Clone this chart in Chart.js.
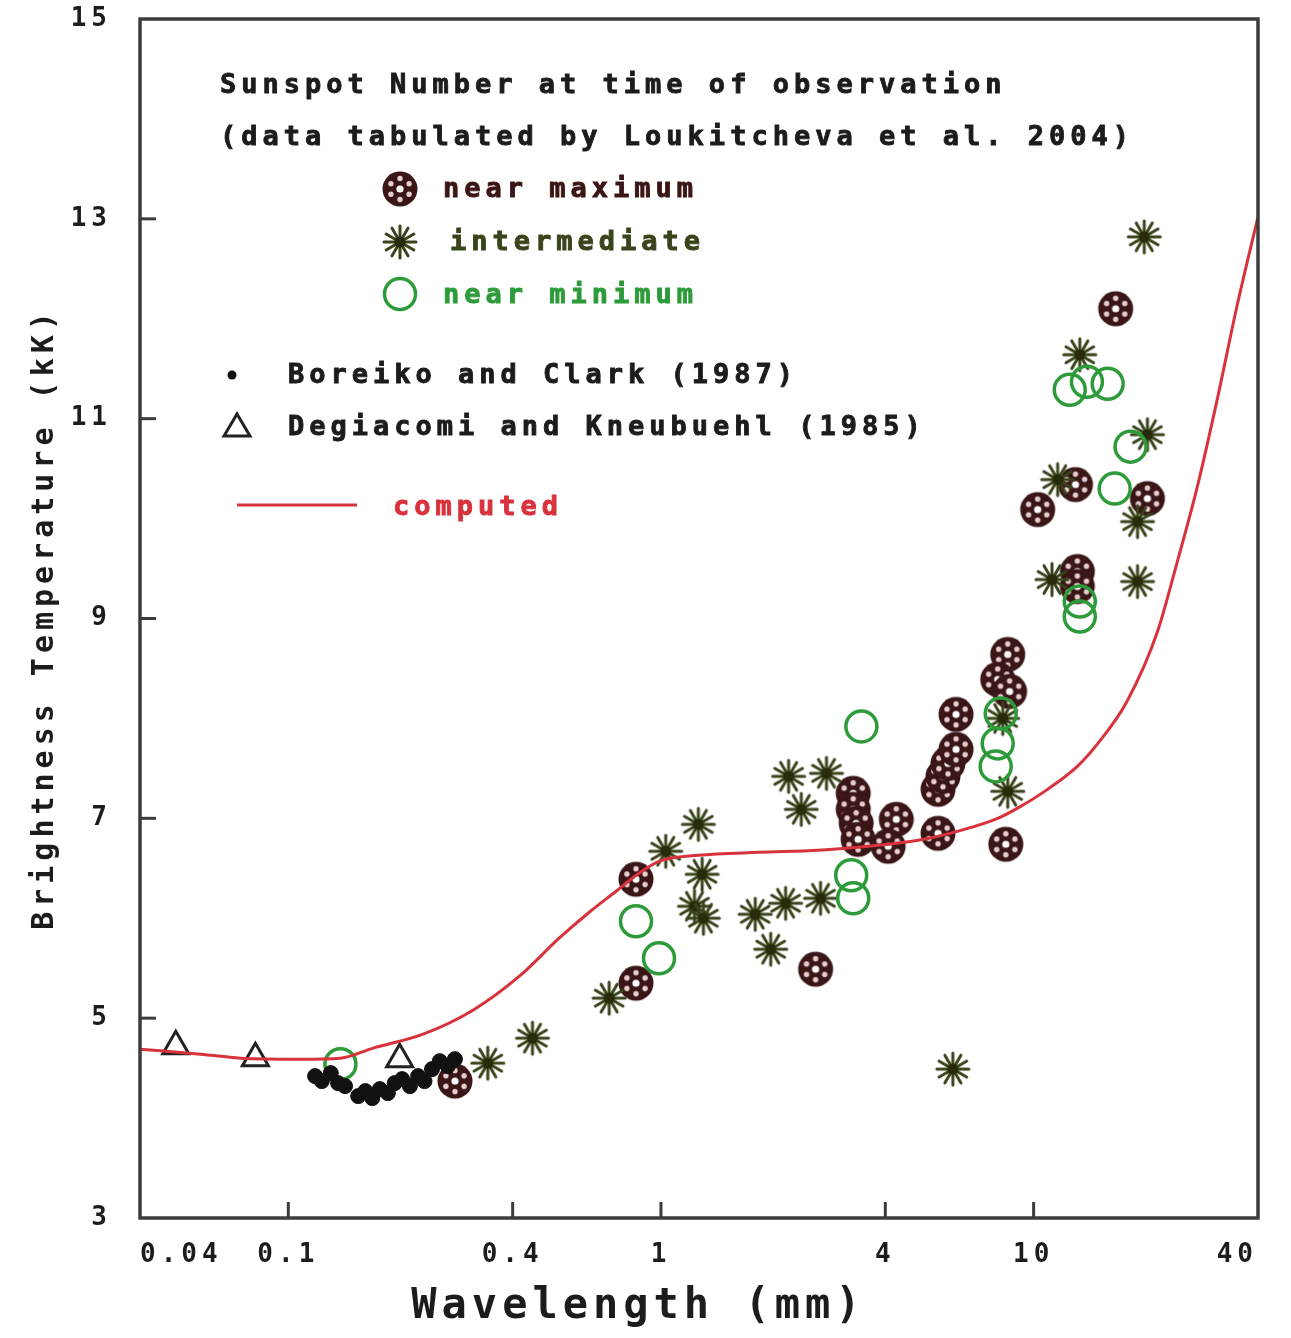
<!DOCTYPE html>
<html>
<head>
<meta charset="utf-8">
<script src="https://cdn.jsdelivr.net/npm/chart.js@4.4.1/dist/chart.umd.min.js"></script>
<style>
  body { margin: 0; background: #fff; }
  #wrap { width: 1291px; height: 1338px; }
</style>
</head>
<body>
<div id="wrap"><canvas id="chart"></canvas></div>
<script>
// ==== Data (wavelength in mm, brightness temperature in kK) ====
const xTicks = [0.04, 0.1, 0.4, 1, 4, 10, 40];
const yTicks = [3, 5, 7, 9, 11, 13, 15];

const nearMaxWave = [0.28, 0.857, 0.857, 2.6, 3.28, 3.28, 3.34, 3.38, 4.28, 4.07, 5.54, 6.19, 5.54, 5.71, 5.89, 6.19, 8.52, 8.01, 8.62, 8.42, 10.25, 12.95, 13.1, 13.1, 16.6, 20.2];
const nearMaxTemp = [4.37, 6.39, 5.35, 5.49, 7.25, 7.09, 6.95, 6.79, 6.99, 6.72, 6.85, 8.04, 7.29, 7.42, 7.55, 7.69, 8.64, 8.39, 8.27, 6.74, 10.09, 10.34, 9.47, 9.32, 12.1, 10.2];

const interWave = [0.343, 0.452, 0.726, 1.03, 1.26, 1.29, 1.23, 1.30, 1.79, 2.16, 1.97, 2.68, 2.20, 2.78, 2.38, 6.07, 8.26, 8.52, 13.3, 19.8, 20.2, 19.0, 19.0, 11.2, 11.6];
const interTemp = [4.55, 4.8, 5.2, 6.67, 6.94, 6.44, 6.12, 6.0, 6.04, 6.15, 5.69, 6.2, 7.42, 7.45, 7.09, 4.49, 8.0, 7.27, 11.64, 12.82, 10.84, 9.97, 9.37, 9.39, 10.39];

const nearMinWave = [0.138, 0.857, 0.988, 3.45, 3.24, 3.28, 8.16, 8.01, 7.91, 12.5, 13.9, 15.8, 18.2, 16.5, 13.3, 13.3];
const nearMinTemp = [4.54, 5.97, 5.6, 7.92, 6.43, 6.2, 8.05, 7.75, 7.52, 11.29, 11.37, 11.35, 10.72, 10.3, 9.17, 9.02];

const boreikoWave = [0.118, 0.123, 0.130, 0.136, 0.142, 0.154, 0.161, 0.168, 0.176, 0.185, 0.193, 0.202, 0.212, 0.223, 0.232, 0.243, 0.255, 0.268, 0.280];
const boreikoTemp = [4.42, 4.37, 4.45, 4.35, 4.32, 4.22, 4.27, 4.2, 4.29, 4.25, 4.35, 4.39, 4.32, 4.42, 4.37, 4.49, 4.57, 4.52, 4.59];

const degiacomiWave = [0.0499, 0.0816, 0.199];
const degiacomiTemp = [4.72, 4.6, 4.59];

const modelWave = [0.04, 0.0582, 0.0744, 0.108, 0.138, 0.169, 0.230, 0.313, 0.417, 0.533, 0.642, 0.758, 0.873, 0.988, 1.26, 1.83, 2.64, 3.60, 4.90, 6.38, 8.01, 9.23, 10.9, 13.1, 14.8, 17.8, 21.5, 24.3, 27.5, 31.0, 35.1, 40];
const modelTemp = [4.69, 4.64, 4.60, 4.59, 4.60, 4.70, 4.84, 5.08, 5.42, 5.80, 6.06, 6.27, 6.45, 6.57, 6.63, 6.66, 6.68, 6.72, 6.78, 6.88, 7.0, 7.12, 7.29, 7.52, 7.74, 8.17, 8.87, 9.57, 10.32, 11.17, 12.12, 13.02];

const pts = (xs, ys) => xs.map((x, i) => ({ x, y: ys[i] }));

// ==== Colours / fonts ====
const FONT = "'DejaVu Sans Mono', monospace";
const INK = '#1c1c1c';
const MAX_COL = '#3b1616';
const INTER_COL = '#38441a';
const MIN_COL = '#2e9b3a';
const RED = '#d8323c';

// ==== Marker images ====
function makeReel() {
  const c = document.createElement('canvas');
  c.width = c.height = 38;
  const g = c.getContext('2d');
  g.fillStyle = MAX_COL;
  g.beginPath(); g.arc(19, 19, 17.5, 0, Math.PI * 2); g.fill();
  g.fillStyle = '#e8cdcf';
  for (let i = 0; i < 6; i++) {
    const a = -Math.PI / 2 + i * Math.PI / 3;
    g.beginPath(); g.arc(19 + Math.cos(a) * 10.5, 19 + Math.sin(a) * 10.5, 2.7, 0, Math.PI * 2); g.fill();
  }
  g.fillStyle = '#fff';
  g.beginPath(); g.arc(19, 19, 3.6, 0, Math.PI * 2); g.fill();
  return c;
}

function makeStar() {
  const c = document.createElement('canvas');
  c.width = c.height = 40;
  const g = c.getContext('2d');
  g.strokeStyle = INTER_COL;
  g.lineWidth = 3;
  g.lineCap = 'round';
  for (let i = 0; i < 6; i++) {
    const a = i * Math.PI / 6;
    g.beginPath();
    g.moveTo(20 - Math.cos(a) * 16, 20 - Math.sin(a) * 16);
    g.lineTo(20 + Math.cos(a) * 16, 20 + Math.sin(a) * 16);
    g.stroke();
  }
  g.fillStyle = '#272b0c';
  g.beginPath(); g.arc(20, 20, 5.5, 0, Math.PI * 2); g.fill();
  return c;
}

const reel = makeReel();
const star = makeStar();

// heavier text, the original plotting font is quite bold
function label(ctx, text, x, y, color) {
  ctx.fillStyle = color;
  ctx.strokeStyle = color;
  ctx.lineWidth = 0.9;
  ctx.fillText(text, x, y);
  ctx.strokeText(text, x, y);
}

// ==== Frame, inward ticks and legend ====
const decor = {
  id: 'decor',
  beforeDraw(chart) {
    chart.ctx.letterSpacing = '5px';
  },
  afterDraw(chart) {
    const { ctx, chartArea: a, scales } = chart;
    ctx.save();
    ctx.strokeStyle = '#3c3c3c';
    ctx.lineWidth = 3.5;
    ctx.strokeRect(a.left, a.top, a.right - a.left, a.bottom - a.top);
    ctx.lineWidth = 3;
    xTicks.slice(1, -1).forEach(v => {
      const px = scales.x.getPixelForValue(v);
      ctx.beginPath(); ctx.moveTo(px, a.bottom); ctx.lineTo(px, a.bottom - 16); ctx.stroke();
    });
    yTicks.slice(1, -1).forEach(v => {
      const py = scales.y.getPixelForValue(v);
      ctx.beginPath(); ctx.moveTo(a.left, py); ctx.lineTo(a.left + 16, py); ctx.stroke();
    });

    // legend
    ctx.letterSpacing = '5px';
    ctx.font = 'bold 27px ' + FONT;
    ctx.textBaseline = 'middle';
    ctx.textAlign = 'left';
    label(ctx, 'Sunspot Number at time of observation', 220, 86, INK);
    label(ctx, '(data tabulated by Loukitcheva et al. 2004)', 220, 138, INK);

    ctx.drawImage(reel, 400 - 19, 189 - 19);
    label(ctx, 'near maximum', 443, 190, MAX_COL);

    ctx.drawImage(star, 400 - 20, 242 - 20);
    label(ctx, 'intermediate', 450, 243, INTER_COL);

    ctx.strokeStyle = MIN_COL;
    ctx.lineWidth = 3.5;
    ctx.beginPath(); ctx.arc(400, 294, 15.5, 0, Math.PI * 2); ctx.stroke();
    label(ctx, 'near minimum', 443, 296, MIN_COL);

    ctx.fillStyle = '#111';
    ctx.beginPath(); ctx.arc(232, 375, 4.5, 0, Math.PI * 2); ctx.fill();
    label(ctx, 'Boreiko and Clark (1987)', 288, 376, INK);

    ctx.strokeStyle = '#222';
    ctx.lineWidth = 3;
    ctx.beginPath();
    ctx.moveTo(237, 414); ctx.lineTo(250, 436); ctx.lineTo(224, 436); ctx.closePath();
    ctx.stroke();
    label(ctx, 'Degiacomi and Kneubuehl (1985)', 288, 428, INK);

    ctx.strokeStyle = RED;
    ctx.lineWidth = 3;
    ctx.beginPath(); ctx.moveTo(237, 505); ctx.lineTo(357, 505); ctx.stroke();
    label(ctx, 'computed', 393, 508, RED);
    ctx.restore();
  }
};

// ==== Chart ====
const ctx = document.getElementById('chart').getContext('2d');
const chart = new Chart(ctx, {
  type: 'scatter',
  data: {
    datasets: [
      { label: 'computed', data: pts(modelWave, modelTemp), showLine: true, borderColor: RED, borderWidth: 3,
        pointRadius: 0, cubicInterpolationMode: 'monotone', order: 0 },
      { label: 'Degiacomi and Kneubuehl (1985)', data: pts(degiacomiWave, degiacomiTemp), pointStyle: 'triangle',
        pointRadius: 15, borderColor: '#222', borderWidth: 3, backgroundColor: 'rgba(0,0,0,0)', order: 1 },
      { label: 'Boreiko and Clark (1987)', data: pts(boreikoWave, boreikoTemp), pointStyle: 'circle',
        pointRadius: 7.5, borderColor: '#111', backgroundColor: '#111', borderWidth: 1, order: 2 },
      { label: 'near minimum', data: pts(nearMinWave, nearMinTemp), pointStyle: 'circle',
        pointRadius: 15.5, borderColor: MIN_COL, borderWidth: 3.5, backgroundColor: 'rgba(0,0,0,0)', order: 3 },
      { label: 'intermediate', data: pts(interWave, interTemp), pointStyle: star, pointRadius: 18, order: 4 },
      { label: 'near maximum', data: pts(nearMaxWave, nearMaxTemp), pointStyle: reel, pointRadius: 18, order: 5 }
    ]
  },
  options: {
    responsive: true,
    maintainAspectRatio: false,
    animation: false,
    layout: { padding: { top: 17, right: 33, left: 0, bottom: 0 } },
    plugins: { legend: { display: false }, tooltip: { enabled: false } },
    scales: {
      x: {
        type: 'logarithmic', min: 0.04, max: 40,
        afterBuildTicks: s => { s.ticks = xTicks.map(v => ({ value: v })); },
        afterFit: s => { s.height = 120; s.paddingLeft = 0; s.paddingRight = 0; },
        grid: { display: false }, border: { display: false },
        ticks: { align: 'inner', padding: 14, autoSkip: false, maxRotation: 0, color: INK,
          font: { family: FONT, size: 26, weight: 'bold' }, callback: v => String(v) },
        title: { display: true, text: 'Wavelength (mm)    ', color: INK, padding: { top: 0, bottom: 6 },
          font: { family: FONT, size: 42, weight: 'bold' } }
      },
      y: {
        min: 3, max: 15,
        afterBuildTicks: s => { s.ticks = yTicks.map(v => ({ value: v })); },
        afterFit: s => { s.width = 140; s.paddingTop = 0; s.paddingBottom = 0; },
        grid: { display: false }, border: { display: false },
        ticks: { padding: 20, color: INK, font: { family: FONT, size: 26, weight: 'bold' } },
        title: { display: true, text: 'Brightness Temperature (kK)', color: INK, padding: { top: 27, bottom: 0 },
          font: { family: FONT, size: 30, weight: 'bold' } }
      }
    }
  },
  plugins: [decor]
});
</script>
</body>
</html>
